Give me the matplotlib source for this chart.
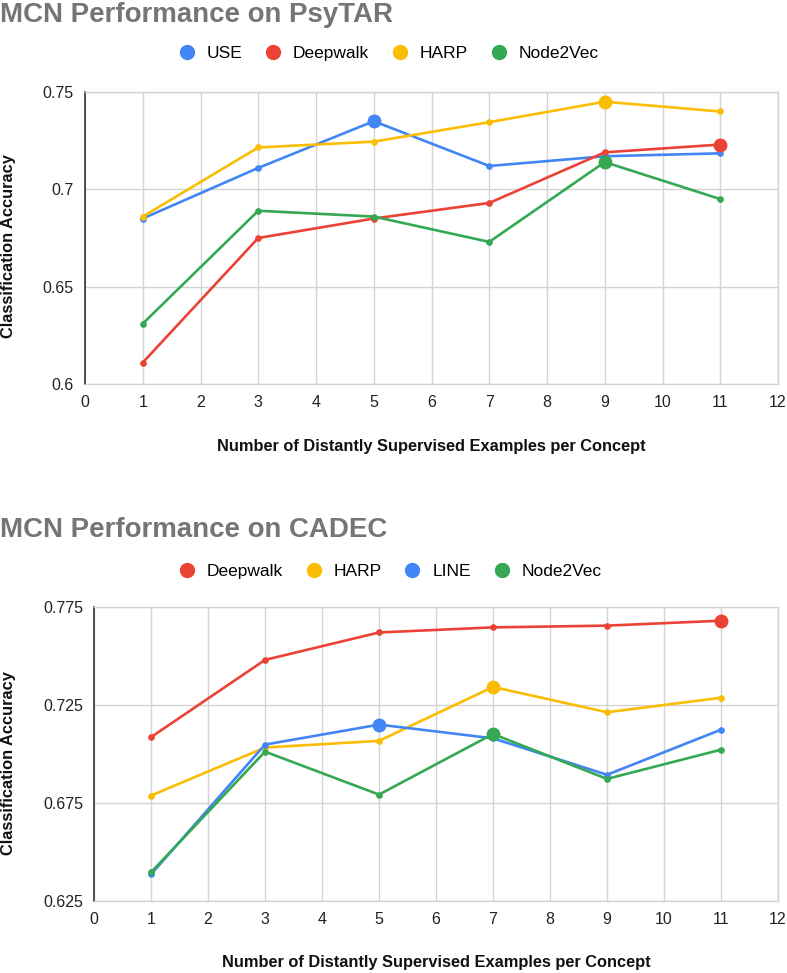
import numpy as np
import matplotlib
matplotlib.use('Agg')
import matplotlib.pyplot as plt
from matplotlib.lines import Line2D

# ---- data ----
x_vals = [1, 3, 5, 7, 9, 11]

psytar_names = ['USE', 'Deepwalk', 'HARP', 'Node2Vec']
psytar_use = [0.685, 0.711, 0.735, 0.712, 0.717, 0.7185]
psytar_deepwalk = [0.611, 0.675, 0.685, 0.693, 0.719, 0.723]
psytar_harp = [0.686, 0.7215, 0.7245, 0.7345, 0.745, 0.740]
psytar_node2vec = [0.631, 0.689, 0.686, 0.673, 0.714, 0.695]
psytar_yticks = [0.6, 0.65, 0.7, 0.75]
psytar_ticklabels = ['0.6', '0.65', '0.7', '0.75']

cadec_names = ['Deepwalk', 'HARP', 'LINE', 'Node2Vec']
cadec_deepwalk = [0.7086, 0.748, 0.762, 0.7646, 0.7655, 0.768]
cadec_harp = [0.6788, 0.7033, 0.7067, 0.7342, 0.7213, 0.7287]
cadec_line = [0.6386, 0.7048, 0.715, 0.708, 0.6894, 0.7124]
cadec_node2vec = [0.6396, 0.7012, 0.6793, 0.7102, 0.6873, 0.7022]
cadec_yticks = [0.625, 0.675, 0.725, 0.775]
cadec_ticklabels = ['0.625', '0.675', '0.725', '0.775']

xticks = list(range(0, 13))

BLUE, RED, YELLOW, GREEN = '#4285F4', '#EA4335', '#FBBC04', '#34A853'
GRID = '#d3d3d3'
FONT = 'Liberation Sans'

W, H = 787, 973
fig = plt.figure(figsize=(W / 100, H / 100), dpi=100)


def px_axes(left, top, right, bottom):
    return fig.add_axes([left / W, 1 - bottom / H, (right - left) / W, (bottom - top) / H])


def draw_panel(ax, series, colors, yticks, ylabels):
    ax.set_xlim(0, 12)
    ax.set_ylim(yticks[0], yticks[-1])
    ax.set_xticks(xticks)
    ax.set_yticks(yticks)
    ax.set_yticklabels(ylabels)
    ax.grid(True, color=GRID, lw=1.0)
    ax.set_axisbelow(True)
    for side in ['top', 'right', 'bottom']:
        ax.spines[side].set_color(GRID)
        ax.spines[side].set_linewidth(1.0)
    ax.spines['left'].set_color('#333333')
    ax.spines['left'].set_linewidth(1.2)
    ax.tick_params(length=0, labelsize=11.5, labelcolor='#222222')
    ax.tick_params(axis='y', pad=8)
    ax.tick_params(axis='x', pad=8)
    for lab in ax.get_xticklabels() + ax.get_yticklabels():
        lab.set_fontfamily(FONT)
    for vals, c in zip(series, colors):
        ax.plot(x_vals, vals, color=c, lw=1.9, marker='o', ms=3.8, zorder=3)
        i = int(np.argmax(vals))
        ax.plot(x_vals[i], vals[i], 'o', color=c, ms=9, zorder=4)


def legend(names, colors, y_px):
    handles = [Line2D([], [], ls='none', marker='o', ms=10, color=c) for c in colors]
    fig.legend(handles, names, loc='center left', bbox_to_anchor=(178 / W, 1 - y_px / H),
               ncol=4, frameon=False, handletextpad=0.65, columnspacing=1.27,
               handlelength=1.0, borderpad=0, borderaxespad=0,
               prop={'family': FONT, 'size': 12.5})


title_kw = dict(fontsize=19.9, fontweight='bold', color='#757575', family=FONT)
lab_kw = dict(fontsize=11.8, fontweight='bold', color='#111111', family=FONT)

# ---- PsyTAR ----
ax1 = px_axes(85, 92, 778, 384)
draw_panel(ax1, [psytar_use, psytar_deepwalk, psytar_harp, psytar_node2vec],
           [BLUE, RED, YELLOW, GREEN], psytar_yticks, psytar_ticklabels)
fig.text(0, 1 - 22 / H, 'MCN Performance on PsyTAR', ha='left', va='baseline', **title_kw)
legend(psytar_names, [BLUE, RED, YELLOW, GREEN], 53)
fig.text(431 / W, 1 - 447 / H, 'Number of Distantly Supervised Examples per Concept',
         ha='center', va='center', **lab_kw)
fig.text(8.5 / W, 1 - 246 / H, 'Classification Accuracy', rotation=90,
         ha='center', va='center', **lab_kw)

# ---- CADEC ----
ax2 = px_axes(94, 607, 778, 901)
draw_panel(ax2, [cadec_deepwalk, cadec_harp, cadec_line, cadec_node2vec],
           [RED, YELLOW, BLUE, GREEN], cadec_yticks, cadec_ticklabels)
fig.text(0, 1 - 537 / H, 'MCN Performance on CADEC', ha='left', va='baseline', **title_kw)
legend(cadec_names, [RED, YELLOW, BLUE, GREEN], 571)
fig.text(436 / W, 1 - 963 / H, 'Number of Distantly Supervised Examples per Concept',
         ha='center', va='center', **lab_kw)
fig.text(8.5 / W, 1 - 763 / H, 'Classification Accuracy', rotation=90,
         ha='center', va='center', **lab_kw)

fig.savefig('out.png', dpi=100)
